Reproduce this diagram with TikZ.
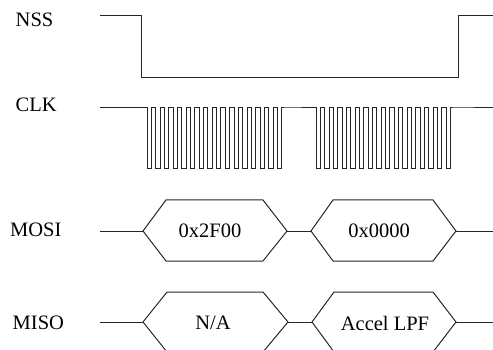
\documentclass[tikz,border=0pt]{standalone}
\usepackage{fontspec}
\setmainfont{Liberation Serif}
\begin{document}
\begin{tikzpicture}[x=1pt,y=-1pt,
  wave/.style={draw=black!85,line width=1pt},
  sig/.style={font=\fontsize{20.5}{24}\selectfont,anchor=west,inner sep=0pt},
  val/.style={font=\fontsize{20.5}{24}\selectfont,inner sep=0pt}]
\useasboundingbox (0,0) rectangle (493,350);
\clip (0,0) rectangle (493,350);

% signal names
\node[sig] (lnss)  at (15.5,19.5) {NSS};
\node[sig] (lclk)  at (15.5,105) {CLK};
\node[sig] (lmosi) at (10,230) {MOSI};
\node[sig] (lmiso) at (12.5,323) {MISO};

% chip select: active low for the whole transfer
\coordinate (nssA) at (100,16);
\coordinate (nssB) at (493,16);
\draw[wave] (nssA) -- (141,16) -- (141,78) -- (458,78) -- (458,16) -- (nssB);

% clock: two bursts of 16 cycles
\coordinate (clkA) at (100,108);
\coordinate (clkB) at (493,108);
\draw[wave] (clkA) -- (147.3,108)
  \foreach \k in {1,...,16} { -- ++(0,61) -- ++(4.335,0) -- ++(0,-61) -- ++(4.335,0) }
  -- (316,108)
  \foreach \k in {1,...,16} { -- ++(0,61) -- ++(4.335,0) -- ++(0,-61) -- ++(4.335,0) }
  -- (clkB);

% MOSI bus
\coordinate (mosiS) at (100,231);
\coordinate (mosiE) at (493,231);
\coordinate (mA1) at (143,231); \coordinate (mA2) at (287,231);
\coordinate (mB1) at (311,231); \coordinate (mB2) at (456,231);
\draw[wave] (mA1) -- (166,200) -- (263,200) -- (mA2) -- (263,261) -- (166,261) -- cycle;
\draw[wave] (mB1) -- (333,200) -- (433,200) -- (mB2) -- (433,261) -- (333,261) -- cycle;
\draw[wave] (mosiS) -- (mA1);
\draw[wave] (mA2) -- (mB1);
\draw[wave] (mB2) -- (mosiE);
\node[val] (mosiA) at (210,231) {0x2F00};
\node[val] (mosiB) at (379,231) {0x0000};

% MISO bus
\coordinate (misoS) at (100,322);
\coordinate (misoE) at (493,322);
\coordinate (sA1) at (143,322); \coordinate (sA2) at (288,322);
\coordinate (sB1) at (312,322); \coordinate (sB2) at (456,322);
\draw[wave] (sA1) -- (167,292) -- (263,292) -- (sA2) -- (263,352) -- (167,352) -- cycle;
\draw[wave] (sB1) -- (334,292) -- (433,292) -- (sB2) -- (433,352) -- (334,352) -- cycle;
\draw[wave] (misoS) -- (sA1);
\draw[wave] (sA2) -- (sB1);
\draw[wave] (sB2) -- (misoE);
\node[val] (misoA) at (213,323) {N/A};
\node[val] (misoB) at (385,323) {Accel LPF};
\end{tikzpicture}
\end{document}
